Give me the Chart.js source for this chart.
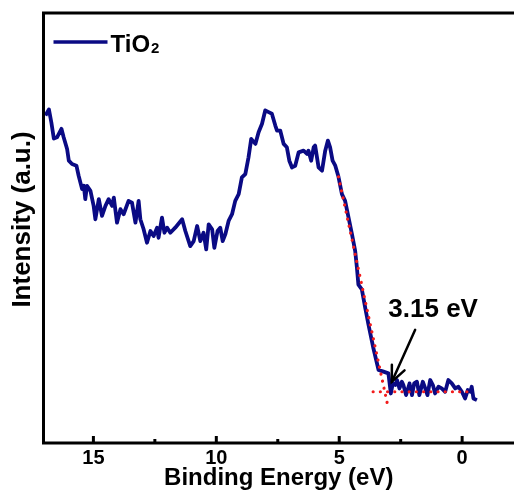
<!DOCTYPE html>
<html>
<head>
<meta charset="utf-8">
<script src="https://cdn.jsdelivr.net/npm/chart.js@4/dist/chart.umd.min.js"></script>
<style>
  html, body { margin: 0; padding: 0; background: #fff; }
  #wrap { width: 514px; height: 493px; }
</style>
</head>
<body>
<div id="wrap"><canvas id="c" width="514" height="493"></canvas></div>
<script>
// ---- data (binding energy in eV, intensity in a.u.) ----
const bindingEnergy = [
  16.95,16.81,16.71,16.61,16.48,16.30,16.21,16.07,16.00,15.87,15.69,15.60,15.46,15.39,15.33,15.26,15.12,14.99,14.92,14.78,
  14.65,14.51,14.38,14.24,14.17,14.04,13.90,13.77,13.57,13.43,13.29,13.16,13.09,12.96,12.82,12.68,12.55,12.41,12.35,12.21,
  12.11,12.00,11.87,11.67,11.39,11.26,11.06,10.92,10.78,10.65,10.52,10.41,10.31,10.17,10.08,9.95,9.84,9.74,9.63,9.50,
  9.36,9.23,9.09,8.96,8.82,8.69,8.58,8.41,8.28,8.14,8.01,7.87,7.74,7.60,7.53,7.40,7.26,7.13,7.03,6.92,
  6.79,6.65,6.45,6.31,6.25,6.14,6.04,5.98,5.84,5.70,5.57,5.46,5.37,5.27,5.16,5.03,4.89,4.76,4.62,4.48,
  4.35,4.28,4.22,4.08,3.94,3.81,3.61,3.40,3.20,3.00,2.90,2.82,2.72,2.65,2.55,2.45,2.39,2.28,2.14,2.04,
  1.95,1.84,1.74,1.60,1.50,1.41,1.30,1.19,1.10,0.96,0.83,0.69,0.56,0.42,0.28,0.15,0.01,-0.12,-0.23,-0.33,
  -0.39,-0.46,-0.60
];
const intensity = [
  326,332,319,303,304.3,312.7,304.3,292.7,281,277.7,276,266,252.7,256,242.7,256,251,236,222.7,242.7,
  226,236,242.7,236,244.3,219.3,232.7,227.7,241,239.3,219.3,241,222.7,213,199.3,211,206,214.3,204.3,224.3,
  209.3,214.3,209.3,214.3,222.7,211,196,201,216,201,209.3,192.7,217.7,212.7,194.3,211,214.3,201,208,221,
  227.7,241,247.7,264.3,267.7,284.3,302.7,297.7,309.3,317.7,331,329.3,327.7,316,311,311,297.7,294.3,281,274.3,
  276,289.3,291,287.7,291,281,294.3,296,274.3,271,291,301,294.3,281,276,265,247.7,241,224.3,207.7,
  191,174.3,157.7,153,134.3,117.7,94.3,72.7,71,69.3,49.3,59.3,57.7,62.7,54.3,61,57.7,47.7,59.3,47.7,
  59.3,61,47.7,61,54.3,47.7,62.7,57.7,49.3,56,54.3,51,62.7,59.3,54.3,56,51,44.3,52.7,51,
  56,44.3,42.7
];
// linear fit of the leading edge and the background line (red dotted)
const edgeFitX = [5.03, 3.00];
const edgeFitY = [265, 34.3];
const baselineX = [3.62, -0.45];
const baselineY = [51, 51];
// axis ticks
const majorTicks = [15, 10, 5, 0];
const minorTicks = [12.5, 7.5, 2.5];
const xTitle = 'Binding Energy (eV)';
const yTitle = 'Intensity (a.u.)';
const seriesName = 'TiO';
const seriesSub = '2';
const annotationText = '3.15 eV';
const annotationAt = { x: 1.18, y: 133 };      // label centre (data units)
const arrowFrom = { x: 1.91, y: 112.7 };       // arrow tail (data units)
const arrowTo = { x: 2.86, y: 61 };            // arrow tip (data units)

const xy = (xs, ys) => xs.map((x, i) => ({ x, y: ys[i] }));

const FONT = '"Liberation Sans", Arial, sans-serif';
const NAVY = '#0a0a84';
const RED = '#f21c1c';

const decor = {
  id: 'decor',
  afterDatasetsDraw(chart) {
    const { ctx, chartArea: a, scales: { x, y } } = chart;
    ctx.save();
    // frame: left, top, bottom
    ctx.strokeStyle = '#000';
    ctx.lineWidth = 3;
    ctx.lineCap = 'butt';
    ctx.beginPath();
    ctx.moveTo(a.left, a.bottom);
    ctx.lineTo(a.left, a.top);
    ctx.lineTo(a.right + 2, a.top);
    ctx.moveTo(a.left - 1.5, a.bottom);
    ctx.lineTo(a.right + 2, a.bottom);
    ctx.stroke();
    // inward ticks
    majorTicks.forEach(v => {
      const px = x.getPixelForValue(v);
      ctx.beginPath(); ctx.moveTo(px, a.bottom); ctx.lineTo(px, a.bottom - 7); ctx.stroke();
    });
    minorTicks.forEach(v => {
      const px = x.getPixelForValue(v);
      ctx.beginPath(); ctx.moveTo(px, a.bottom); ctx.lineTo(px, a.bottom - 4); ctx.stroke();
    });
    // y-axis title
    ctx.fillStyle = '#000';
    ctx.save();
    ctx.translate(a.left - 20.5, (a.top + a.bottom) / 2 - 8.5);
    ctx.rotate(-Math.PI / 2);
    ctx.font = 'bold 26px ' + FONT;
    ctx.textAlign = 'center';
    ctx.textBaseline = 'middle';
    ctx.fillText(yTitle, 0, 0);
    ctx.restore();
    // legend
    ctx.strokeStyle = NAVY;
    ctx.lineWidth = 3.5;
    ctx.beginPath(); ctx.moveTo(a.left + 10, 42); ctx.lineTo(a.left + 64, 42); ctx.stroke();
    ctx.textBaseline = 'alphabetic';
    ctx.textAlign = 'left';
    ctx.font = 'bold 24px ' + FONT;
    ctx.fillText(seriesName, a.left + 67, 52);
    const w = ctx.measureText(seriesName).width;
    ctx.font = 'bold 15px ' + FONT;
    ctx.fillText(seriesSub, a.left + 67 + w + 1, 53);
    // annotation text
    ctx.font = 'bold 26px ' + FONT;
    ctx.textAlign = 'center';
    ctx.textBaseline = 'middle';
    ctx.fillText(annotationText, x.getPixelForValue(annotationAt.x), y.getPixelForValue(annotationAt.y));
    // arrow
    const x0 = x.getPixelForValue(arrowFrom.x), y0 = y.getPixelForValue(arrowFrom.y);
    const x1 = x.getPixelForValue(arrowTo.x), y1 = y.getPixelForValue(arrowTo.y);
    ctx.strokeStyle = '#000';
    ctx.lineWidth = 2.5;
    ctx.lineCap = 'round';
    ctx.beginPath(); ctx.moveTo(x0, y0); ctx.lineTo(x1, y1); ctx.stroke();
    const ang = Math.atan2(y1 - y0, x1 - x0);
    const hl = 17, spread = 0.42;
    ctx.beginPath();
    ctx.moveTo(x1 - hl * Math.cos(ang - spread), y1 - hl * Math.sin(ang - spread));
    ctx.lineTo(x1, y1);
    ctx.lineTo(x1 - hl * Math.cos(ang + spread), y1 - hl * Math.sin(ang + spread));
    ctx.stroke();
    ctx.restore();
  }
};

new Chart(document.getElementById('c'), {
  type: 'line',
  data: {
    datasets: [
      { label: 'fit', data: xy(edgeFitX, edgeFitY), borderColor: RED, borderWidth: 3.2,
        borderDash: [0.01, 7.2], borderCapStyle: 'round', pointRadius: 0, fill: false, order: 0 },
      { label: 'base', data: xy(baselineX, baselineY), borderColor: RED, borderWidth: 3.2,
        borderDash: [0.01, 7.2], borderCapStyle: 'round', pointRadius: 0, fill: false, order: 0 },
      { label: 'TiO2', data: xy(bindingEnergy, intensity), borderColor: NAVY, borderWidth: 3.8,
        borderJoinStyle: 'round', pointRadius: 0, tension: 0, fill: false, order: 1 }
    ]
  },
  options: {
    responsive: false,
    animation: false,
    devicePixelRatio: 1,
    layout: { padding: { top: 13, right: 0, bottom: 3, left: 43.5 } },
    plugins: { legend: { display: false }, tooltip: { enabled: false } },
    scales: {
      x: {
        type: 'linear',
        reverse: true,
        min: -2.11,
        max: 17.03,
        afterBuildTicks: (s) => { s.ticks = majorTicks.map(v => ({ value: v })); },
        ticks: { color: '#000', padding: 5, maxRotation: 0, autoSkip: false,
                 font: { family: FONT, size: 20, weight: 'bold', lineHeight: 1 } },
        grid: { display: false, drawTicks: false },
        border: { display: false },
        title: { display: true, text: xTitle, color: '#000',
                 padding: { top: -7, bottom: 0 },
                 font: { family: FONT, size: 24, weight: 'bold', lineHeight: 1 } }
      },
      y: {
        min: 0,
        max: 428,
        ticks: { display: false },
        grid: { display: false, drawTicks: false },
        border: { display: false },
        title: { display: false }
      }
    }
  },
  plugins: [decor]
});
</script>
</body>
</html>
